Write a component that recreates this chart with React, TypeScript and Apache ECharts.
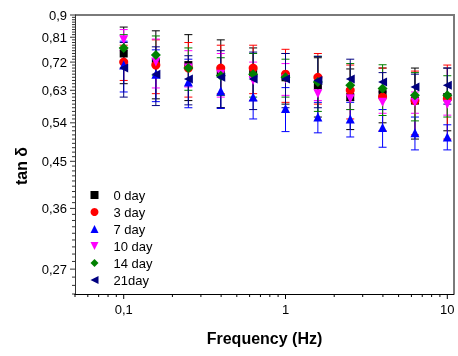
import React, { useEffect, useRef } from "react";
import * as echarts from "echarts";

const FREQ = [0.1, 0.158, 0.251, 0.398, 0.631, 1, 1.585, 2.512, 3.981, 6.31, 10];

const DAY0 = [0.75, 0.72, 0.71, 0.69, 0.685, 0.67, 0.645, 0.61, 0.62, 0.6, 0.61];
const DAY0_ERR = [0.1, 0.115, 0.11, 0.11, 0.085, 0.08, 0.09, 0.087, 0.08, 0.1, 0.09];
const DAY3 = [0.72, 0.71, 0.7, 0.7, 0.7, 0.68, 0.67, 0.63, 0.61, 0.6, 0.605];
const DAY3_ERR = [0.06, 0.09, 0.09, 0.08, 0.08, 0.085, 0.08, 0.08, 0.09, 0.09, 0.105];
const DAY7 = [0.71, 0.68, 0.655, 0.628, 0.61, 0.578, 0.555, 0.55, 0.528, 0.515, 0.505];
const DAY7_ERR = [0.085, 0.083, 0.075, 0.05, 0.06, 0.06, 0.04, 0.045, 0.047, 0.04, 0.03];
const DAY10 = [0.8, 0.72, 0.7, 0.68, 0.66, 0.665, 0.62, 0.605, 0.595, 0.595, 0.59];
const DAY10_ERR = [0.04, 0.083, 0.06, 0.07, 0.06, 0.05, 0.02, 0.03, 0.03, 0.03, 0.03];
const DAY14 = [0.77, 0.745, 0.7, 0.675, 0.68, 0.67, 0.655, 0.645, 0.635, 0.615, 0.615];
const DAY14_ERR = [0.05, 0.07, 0.07, 0.06, 0.07, 0.06, 0.085, 0.07, 0.076, 0.07, 0.06];
const DAY21 = [0.7, 0.68, 0.665, 0.67, 0.665, 0.665, 0.66, 0.665, 0.655, 0.64, 0.645];
const DAY21_ERR = [0.09, 0.094, 0.077, 0.09, 0.09, 0.085, 0.08, 0.065, 0.03, 0.04, 0.055];

const SERIES_NAMES = ["0 day", "3 day", "7 day", "10 day", "14 day", "21day"];
const Y_TICKS = [0.27, 0.36, 0.45, 0.54, 0.63, 0.72, 0.81, 0.9];
const Y_TICK_LABELS = ["0,27", "0,36", "0,45", "0,54", "0,63", "0,72", "0,81", "0,9"];
const X_TICKS = [0.1, 1, 10];
const X_TICK_LABELS = ["0,1", "1", "10"];

const FONT = "'Liberation Sans', Arial, sans-serif";

const STYLES = [
  { color: "#000000", symbol: "rect", size: 8 },
  { color: "#ff0000", symbol: "circle", size: 9 },
  { color: "#0000ff", symbol: "triangle", size: 9 },
  { color: "#ff00ff", symbol: "path://M0,0 L10,0 L5,10 Z", size: 9 },
  { color: "#008000", symbol: "diamond", size: 10 },
  { color: "#000080", symbol: "path://M10,0 L0,5 L10,10 Z", size: 9 },
];

const VALUES = [DAY0, DAY3, DAY7, DAY10, DAY14, DAY21];
const ERRORS = [DAY0_ERR, DAY3_ERR, DAY7_ERR, DAY10_ERR, DAY14_ERR, DAY21_ERR];

export default function App() {
  const ref = useRef<HTMLDivElement>(null);
  useEffect(() => {
    const chart = echarts.init(ref.current!, null, { renderer: "svg" });
    const series: any[] = [];
    SERIES_NAMES.forEach((name, i) => {
      const st = STYLES[i];
      series.push({
        type: "custom",
        name: name + " err",
        data: FREQ.map((f, k) => [f, VALUES[i][k], ERRORS[i][k]]),
        encode: { x: 0, y: 1 },
        silent: true,
        renderItem: (params: any, api: any) => {
          const x = api.value(0);
          const y = api.value(1);
          const e = api.value(2);
          const top = api.coord([x, y + e]);
          const bot = api.coord([x, y - e]);
          const hw = 4;
          const s = { stroke: st.color, lineWidth: 1 };
          return {
            type: "group",
            children: [
              { type: "line", shape: { x1: top[0], y1: top[1], x2: bot[0], y2: bot[1] }, style: s },
              { type: "line", shape: { x1: top[0] - hw, y1: top[1], x2: top[0] + hw, y2: top[1] }, style: s },
              { type: "line", shape: { x1: bot[0] - hw, y1: bot[1], x2: bot[0] + hw, y2: bot[1] }, style: s },
            ],
          };
        },
      });
      series.push({
        type: "scatter",
        name,
        data: FREQ.map((f, k) => [f, VALUES[i][k]]),
        symbol: st.symbol,
        symbolSize: st.size,
        itemStyle: { color: st.color, opacity: 1 },
        emphasis: { disabled: true },
      });
    });

    chart.setOption({
      animation: false,
      grid: { left: 75, right: 4, top: 15, bottom: 62 },
      xAxis: {
        type: "log",
        logBase: 10,
        min: 0.05,
        max: 11,
        axisLine: { show: true, lineStyle: { color: "#000", width: 1 } },
        axisTick: { show: false },
        axisLabel: { show: false },
        splitLine: { show: false },
      },
      yAxis: {
        type: "log",
        logBase: 10,
        min: 0.24,
        max: 0.9,
        axisLine: { show: true, lineStyle: { color: "#333", width: 1 } },
        axisTick: { show: false },
        axisLabel: { show: false },
        splitLine: { show: false },
      },
      legend: {
        data: SERIES_NAMES,
        orient: "vertical",
        left: 85.5,
        top: 183.5,
        itemWidth: 8,
        itemHeight: 8,
        itemGap: 4,
        selectedMode: false,
        textStyle: { fontSize: 13, fontFamily: FONT, color: "#000", lineHeight: 13, padding: [0, 0, 0, 10] },
      },
      series,
    });

    const px = (v: number) => chart.convertToPixel({ xAxisIndex: 0 }, v) as number;
    const py = (v: number) => chart.convertToPixel({ yAxisIndex: 0 }, v) as number;
    const x0 = px(0.05);
    const x1 = px(11);
    const y0 = py(0.24);
    const y1 = py(0.9);
    const g: any[] = [];
    const axisColor = "#333";
    for (let k = 24; k <= 90; k++) {
      const v = k / 100;
      const isMajor = Y_TICKS.some((t) => Math.abs(t - v) < 1e-9);
      const y = py(v);
      g.push({
        type: "line",
        shape: { x1: x0 - (isMajor ? 5 : 3), y1: y, x2: x0, y2: y },
        style: { stroke: axisColor, lineWidth: 1 },
        silent: true,
      });
    }
    Y_TICKS.forEach((t, i) => {
      g.push({
        type: "text",
        x: x0 - 8,
        y: py(t),
        style: { text: Y_TICK_LABELS[i], fontSize: 13, fontFamily: FONT, fill: "#000", align: "right", verticalAlign: "middle" },
        silent: true,
      });
    });
    const xMinor: number[] = [];
    [0.01, 0.1, 1].forEach((d) => {
      for (let m = 2; m <= 9; m++) {
        const v = d * m;
        if (v >= 0.05 && v <= 11) xMinor.push(v);
      }
    });
    xMinor.forEach((v) => {
      const x = px(v);
      g.push({ type: "line", shape: { x1: x, y1: y0, x2: x, y2: y0 + 3 }, style: { stroke: "#000", lineWidth: 1 }, silent: true });
    });
    X_TICKS.forEach((t, i) => {
      const x = px(t);
      g.push({ type: "line", shape: { x1: x, y1: y0, x2: x, y2: y0 + 5 }, style: { stroke: "#000", lineWidth: 1 }, silent: true });
      g.push({
        type: "text",
        x,
        y: y0 + 9,
        style: { text: X_TICK_LABELS[i], fontSize: 13, fontFamily: FONT, fill: "#000", align: "center", verticalAlign: "top" },
        silent: true,
      });
    });
    g.push({ type: "line", shape: { x1: x0, y1: y1, x2: x1 + 1, y2: y1 }, style: { stroke: "#7a7a7a", lineWidth: 2 }, silent: true });
    g.push({ type: "line", shape: { x1: x1, y1: y1, x2: x1, y2: y0 }, style: { stroke: "#7a7a7a", lineWidth: 2 }, silent: true });
    g.push({
      type: "text",
      x: (x0 + x1) / 2,
      y: 338,
      style: { text: "Frequency (Hz)", fontSize: 16, fontWeight: "bold", fontFamily: FONT, fill: "#000", align: "center", verticalAlign: "middle" },
      silent: true,
    });
    g.push({
      type: "text",
      x: 21,
      y: 166,
      rotation: Math.PI / 2,
      style: { text: "tan δ", fontSize: 16, fontWeight: "bold", fontFamily: FONT, fill: "#000", align: "center", verticalAlign: "middle" },
      silent: true,
    });
    chart.setOption({ graphic: g });
    return () => chart.dispose();
  }, []);
  return <div ref={ref} style={{ position: "fixed", left: 0, top: 0, width: 458, height: 356 }} />;
}
